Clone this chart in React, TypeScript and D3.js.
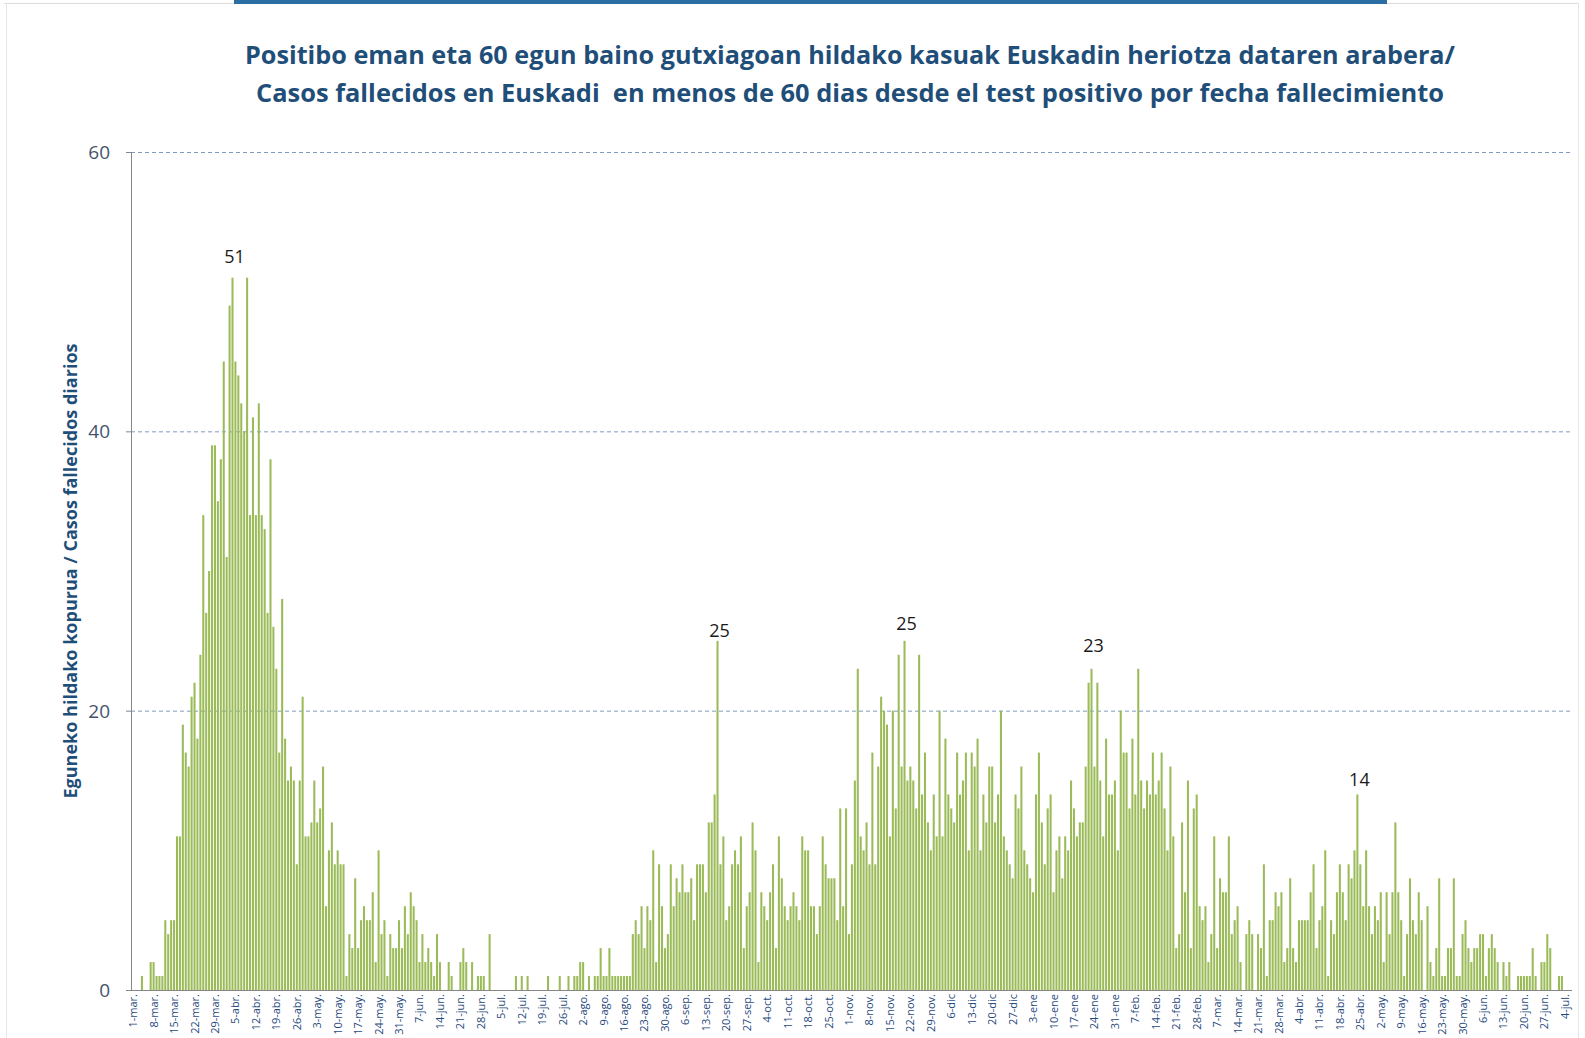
import { useEffect, useRef } from "react"
import * as d3 from "d3"

// daily deaths, one array per month (1-mar-2020 .. 4-jul-2021)
const mar20 = [0, 0, 0, 1, 0, 0, 2, 2, 1, 1, 1, 5, 4, 5, 5, 11, 11, 19, 17, 16, 21, 22, 18, 24, 34, 27, 30, 39, 39, 35, 38]
const abr20 = [45, 31, 49, 51, 45, 44, 42, 40, 51, 34, 41, 34, 42, 34, 33, 27, 38, 26, 23, 17, 28, 18, 15, 16, 15, 9, 15, 21, 11, 11]
const may20 = [12, 15, 12, 13, 16, 6, 10, 12, 9, 10, 9, 9, 1, 4, 3, 8, 3, 5, 6, 5, 5, 7, 2, 10, 4, 5, 1, 4, 3, 3, 5]
const jun20 = [3, 6, 4, 7, 6, 5, 2, 4, 2, 3, 2, 1, 4, 2, 0, 0, 2, 1, 0, 0, 2, 3, 2, 0, 2, 0, 1, 1, 1, 0]
const jul20 = [4, 0, 0, 0, 0, 0, 0, 0, 0, 1, 0, 1, 0, 1, 0, 0, 0, 0, 0, 0, 1, 0, 0, 0, 1, 0, 0, 1, 0, 1, 1]
const ago20 = [2, 2, 0, 1, 0, 1, 1, 3, 1, 1, 3, 1, 1, 1, 1, 1, 1, 1, 4, 5, 4, 6, 3, 6, 5, 10, 2, 9, 6, 3, 4]
const sep20 = [9, 6, 8, 7, 9, 7, 7, 8, 5, 9, 9, 9, 7, 12, 12, 14, 25, 9, 11, 5, 6, 9, 10, 9, 11, 3, 6, 7, 12, 10]
const oct20 = [2, 7, 6, 5, 7, 9, 3, 11, 8, 6, 5, 6, 7, 6, 5, 11, 10, 10, 6, 6, 4, 6, 11, 9, 8, 8, 8, 5, 13, 6, 13]
const nov20 = [4, 9, 15, 23, 11, 10, 12, 9, 17, 9, 16, 21, 20, 19, 11, 20, 13, 24, 16, 25, 15, 16, 15, 13, 24, 14, 17, 12, 10, 14]
const dic20 = [11, 20, 11, 18, 14, 13, 12, 17, 14, 15, 17, 10, 17, 16, 18, 10, 14, 12, 16, 16, 12, 14, 20, 11, 10, 9, 8, 14, 13, 16, 10]
const ene21 = [9, 8, 7, 14, 17, 12, 9, 13, 14, 7, 10, 11, 8, 11, 10, 15, 13, 11, 12, 12, 16, 22, 23, 16, 22, 15, 11, 18, 14, 14, 15]
const feb21 = [10, 20, 17, 17, 13, 18, 14, 23, 15, 13, 15, 14, 17, 14, 15, 17, 13, 10, 16, 11, 3, 4, 12, 7, 15, 3, 13, 14]
const mar21 = [6, 5, 6, 2, 4, 11, 3, 8, 7, 7, 11, 4, 5, 6, 2, 0, 4, 5, 4, 0, 4, 3, 9, 1, 5, 5, 7, 6, 7, 2, 3]
const abr21 = [8, 3, 2, 5, 5, 5, 5, 7, 9, 3, 5, 6, 10, 1, 5, 4, 7, 9, 7, 5, 9, 8, 10, 14, 9, 6, 10, 6, 4, 6]
const may21 = [5, 7, 2, 7, 4, 7, 12, 7, 5, 1, 4, 8, 5, 4, 7, 5, 0, 6, 2, 1, 3, 8, 1, 1, 3, 3, 8, 1, 1, 4, 5]
const jun21 = [3, 2, 3, 3, 4, 4, 1, 3, 4, 3, 2, 0, 2, 1, 2, 0, 0, 1, 1, 1, 1, 1, 3, 1, 0, 2, 2, 4, 3, 0]
const jul21 = [0, 1, 1, 0]

const deaths = [
    mar20, abr20, may20, jun20, jul20, ago20, sep20, oct20, nov20, dic20,
    ene21, feb21, mar21, abr21, may21, jun21, jul21
].flat()

// one label every 7 days, starting on day 0
const tickLabels = [
    "1-mar.", "8-mar.", "15-mar.", "22-mar.", "29-mar.", "5-abr.", "12-abr.", "19-abr.", "26-abr.",
    "3-may.", "10-may.", "17-may.", "24-may.", "31-may.", "7-jun.", "14-jun.", "21-jun.", "28-jun.",
    "5-jul.", "12-jul.", "19-jul.", "26-jul.", "2-ago.", "9-ago.", "16-ago.", "23-ago.", "30-ago.",
    "6-sep.", "13-sep.", "20-sep.", "27-sep.", "4-oct.", "11-oct.", "18-oct.", "25-oct.",
    "1-nov.", "8-nov.", "15-nov.", "22-nov.", "29-nov.", "6-dic", "13-dic", "20-dic", "27-dic",
    "3-ene", "10-ene", "17-ene", "24-ene", "31-ene", "7-feb.", "14-feb.", "21-feb.", "28-feb.",
    "7-mar.", "14-mar.", "21-mar.", "28-mar.", "4-abr.", "11-abr.", "18-abr.", "25-abr.",
    "2-may.", "9-may.", "16-may.", "23-may.", "30-may.", "6-jun.", "13-jun.", "20-jun.", "27-jun.", "4-jul."
]

const peakDays = [34, 200, 264, 328, 419]
const peakLift = [21, 10, 17, 23, 14]

const yTicks = [0, 20, 40, 60]

const titleLines = [
    "Positibo eman eta 60 egun baino gutxiagoan hildako kasuak Euskadin heriotza dataren arabera/",
    "Casos fallecidos en Euskadi  en menos de 60 dias desde el test positivo por fecha fallecimiento"
]
const yTitle = "Eguneko hildako kopurua / Casos fallecidos diarios"

const FONT = "'Liberation Sans Narrow', 'Open Sans', 'DejaVu Sans Condensed', sans-serif"

export default function App() {
    const ref = useRef<SVGSVGElement | null>(null)

    useEffect(() => {
        const host = ref.current
        if (!host) return
        const svg = d3.select(host)
        svg.selectAll("*").remove()

        const width = 1585
        const height = 1038
        const left = 131
        const right = 1572

        const x = d3.scaleBand<number>()
            .domain(d3.range(deaths.length))
            .range([131.7, 1566.3])
            .paddingInner(0.3)
            .paddingOuter(0.15)

        const y = d3.scaleLinear().domain([0, 60]).range([990, 152])
        const cx = (d: number) => (x(d) ?? 0) + x.bandwidth() / 2

        svg.append("rect").attr("width", width).attr("height", height).attr("fill", "#fff")

        // page frame
        svg.append("line").attr("x1", 4).attr("x2", 1578).attr("y1", 3.5).attr("y2", 3.5)
            .attr("stroke", "#dcdcdc")
        svg.append("line").attr("x1", 6.5).attr("x2", 6.5).attr("y1", 3).attr("y2", height)
            .attr("stroke", "#e6e6e6")
        svg.append("line").attr("x1", 1578.5).attr("x2", 1578.5).attr("y1", 3).attr("y2", height)
            .attr("stroke", "#e6e6e6")
        svg.append("rect").attr("x", 234).attr("y", 0).attr("width", 1153).attr("height", 4)
            .attr("fill", "#2c6ea3")

        // title
        svg.append("g")
            .selectAll("text")
            .data(titleLines)
            .join("text")
            .attr("x", 850)
            .attr("y", (d, i) => 64 + i * 38)
            .attr("text-anchor", "middle")
            .attr("font-family", FONT)
            .attr("font-weight", 700)
            .attr("font-size", 25)
            .attr("fill", "#1f4e79")
            .attr("textLength", (d, i) => (i === 0 ? 1210 : 1188))
            .attr("lengthAdjust", "spacingAndGlyphs")
            .style("white-space", "pre")
            .text(d => d)

        // grid
        svg.append("g")
            .selectAll("line")
            .data(yTicks.filter(t => t > 0))
            .join("line")
            .attr("x1", left)
            .attr("x2", right)
            .attr("y1", d => y(d) + 0.5)
            .attr("y2", d => y(d) + 0.5)
            .attr("stroke", "#7f9cc0")
            .attr("stroke-dasharray", "4 3")

        // y tick labels
        svg.append("g")
            .selectAll("text")
            .data(yTicks)
            .join("text")
            .attr("x", 110)
            .attr("y", d => y(d) + 7)
            .attr("text-anchor", "end")
            .attr("font-family", FONT)
            .attr("font-size", 19)
            .attr("fill", "#44546a")
            .text(d => d)

        // y ticks
        svg.append("g")
            .selectAll("line")
            .data(yTicks)
            .join("line")
            .attr("x1", left - 5)
            .attr("x2", left)
            .attr("y1", d => y(d) + 0.5)
            .attr("y2", d => y(d) + 0.5)
            .attr("stroke", "#868686")

        // y title
        svg.append("text")
            .attr("transform", "translate(77,571) rotate(-90)")
            .attr("text-anchor", "middle")
            .attr("font-family", FONT)
            .attr("font-weight", 700)
            .attr("font-size", 18)
            .attr("fill", "#1f4e79")
            .attr("textLength", 455)
            .attr("lengthAdjust", "spacingAndGlyphs")
            .text(yTitle)

        // bars
        svg.append("g")
            .selectAll("rect")
            .data(deaths.map((v, i) => ({ v, i })).filter(d => d.v > 0))
            .join("rect")
            .attr("x", d => x(d.i) ?? 0)
            .attr("width", x.bandwidth())
            .attr("y", d => y(d.v))
            .attr("height", d => y(0) - y(d.v))
            .attr("fill", "#9bbb59")

        // axes lines
        svg.append("line").attr("x1", left + 0.5).attr("x2", left + 0.5)
            .attr("y1", y(60)).attr("y2", y(0)).attr("stroke", "#868686")
        svg.append("line").attr("x1", left).attr("x2", right)
            .attr("y1", y(0) + 0.5).attr("y2", y(0) + 0.5).attr("stroke", "#868686")

        // x tick labels
        svg.append("g")
            .selectAll("text")
            .data(tickLabels)
            .join("text")
            .attr("transform", (d, i) => `translate(${cx(i * 7) + 4},994) rotate(-90)`)
            .attr("text-anchor", "end")
            .attr("font-family", FONT)
            .attr("font-size", 11)
            .attr("fill", "#1f497d")
            .text(d => d)

        // peak labels
        svg.append("g")
            .selectAll("text")
            .data(peakDays)
            .join("text")
            .attr("x", d => cx(d) + 2)
            .attr("y", (d, i) => y(deaths[d]) - peakLift[i] + 6)
            .attr("text-anchor", "middle")
            .attr("font-family", "'Open Sans', sans-serif")
            .attr("font-size", 18)
            .attr("fill", "#1a1a1a")
            .text(d => deaths[d])
    }, [])

    return (
        <div style={{ position: "absolute", left: 0, top: 0 }}>
            <svg ref={ref} width={1585} height={1038} style={{ display: "block" }} />
        </div>
    )
}
